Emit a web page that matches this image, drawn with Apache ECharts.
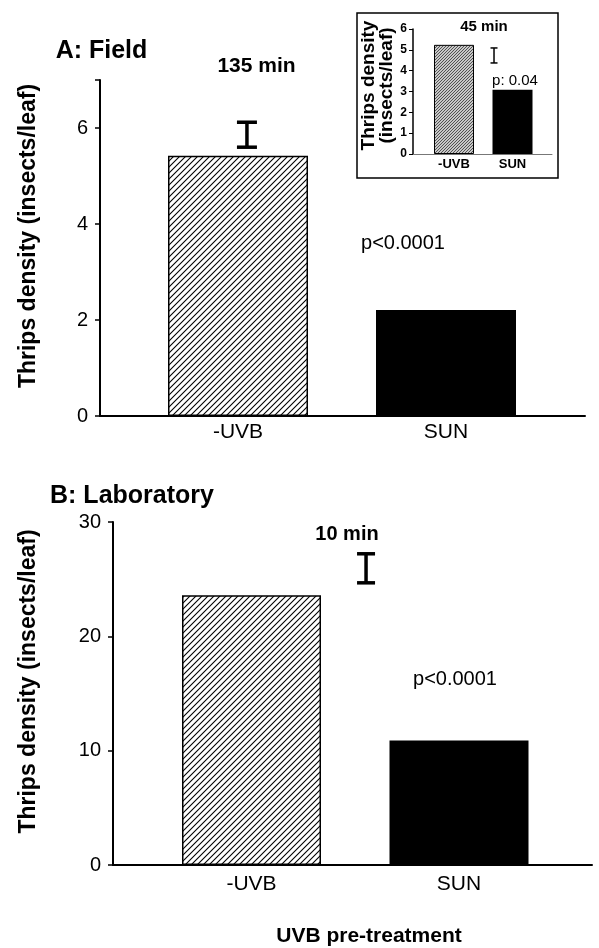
<!DOCTYPE html>
<html><head><meta charset="utf-8">
<script src="https://cdn.jsdelivr.net/npm/echarts@6/dist/echarts.min.js"></script>
<style>html,body{margin:0;padding:0;background:#fff}#c{width:599px;height:948px}</style>
</head><body><div id="c"></div>
<script>
// ---- data ----
const categories = ['-UVB', 'SUN'];
const fieldValues = [5.42, 2.21];      // A: Field, 135 min
const labValues = [23.6, 10.9];        // B: Laboratory, 10 min
const insetValues = [5.24, 3.08];      // inset, 45 min
const fieldErr = [5.86, 0.26];         // [mean, half-length] of error bar
const labErr = [25.95, 1.27];
const insetErr = [4.73, 0.36];
const fieldTicks = [0, 2, 4, 6];
const labTicks = [0, 10, 20, 30];
const insetTicks = [0, 1, 2, 3, 4, 5, 6];

// ---- styling helpers ----
function hatch(size, bg, fg, lw) {
  const c = document.createElement('canvas');
  c.width = size; c.height = size;
  const g = c.getContext('2d');
  g.fillStyle = bg; g.fillRect(0, 0, size, size);
  g.strokeStyle = fg; g.lineWidth = lw;
  g.beginPath();
  g.moveTo(0, size); g.lineTo(size, 0);
  g.moveTo(-size, size); g.lineTo(size, -size);
  g.moveTo(0, 2 * size); g.lineTo(2 * size, 0);
  g.stroke();
  return c;
}
const hatchBig = { image: hatch(6, '#fff', '#000', 1.1), repeat: 'repeat' };
const hatchSmall = { image: hatch(3, '#c8c8c8', '#444', 0.9), repeat: 'repeat' };

const FONT = '"Liberation Sans", Arial, sans-serif';

function barData(vals, hatchFill, bw) {
  return vals.map((v, i) => ({
    value: v,
    itemStyle: i === 0
      ? { color: hatchFill, borderColor: '#000', borderWidth: bw }
      : { color: '#000', borderWidth: 0 }
  }));
}

function errSeries(xi, yi, err, frac, capW, lw) {
  return {
    type: 'custom', xAxisIndex: xi, yAxisIndex: yi, silent: true,
    data: [[0, err[0], err[1]]],
    encode: { x: 0, y: 1 },
    renderItem: function (params, api) {
      const m = api.value(1), h = api.value(2);
      const band = api.size([1, 0])[0];
      const p1 = api.coord([0, m + h]);
      const p2 = api.coord([0, m - h]);
      const x = p1[0] + frac * band;
      const st = { stroke: '#000', lineWidth: lw, fill: null };
      return {
        type: 'group', children: [
          { type: 'line', shape: { x1: x, y1: p1[1], x2: x, y2: p2[1] }, style: st },
          { type: 'line', shape: { x1: x - capW / 2, y1: p1[1], x2: x + capW / 2, y2: p1[1] }, style: st },
          { type: 'line', shape: { x1: x - capW / 2, y1: p2[1], x2: x + capW / 2, y2: p2[1] }, style: st }
        ]
      };
    }
  };
}

function lineGridAxes(gridIndex, color, width) {
  return {
    x: { type: 'value', gridIndex: gridIndex, min: 0, max: 1, axisLine: { show: true, onZero: false, lineStyle: { color: color, width: width } }, axisTick: { show: false }, axisLabel: { show: false }, splitLine: { show: false } },
    y: { type: 'value', gridIndex: gridIndex, min: 0, max: 1, show: false }
  };
}

const la = lineGridAxes(1, '#000', 2);
const lb = lineGridAxes(3, '#000', 2);
const li = lineGridAxes(5, '#777', 1);

function text(x, y, t, font) {
  return { type: 'text', x: x, y: y, style: { text: t, font: font, fill: '#000', align: 'center', verticalAlign: 'middle' } };
}

const option = {
  backgroundColor: '#fff',
  animation: false,
  textStyle: { fontFamily: FONT },
  grid: [
    { left: 134, top: 80, width: 416, height: 336 },        // 0 A
    { left: 100, top: 80, width: 485, height: 336 },        // 1 A baseline
    { left: 147.75, top: 522, width: 415, height: 343 },    // 2 B
    { left: 113, top: 522, width: 479, height: 343 },       // 3 B baseline
    { left: 424.75, top: 29, width: 117, height: 125 },     // 4 inset
    { left: 413, top: 29, width: 139, height: 125 }         // 5 inset baseline
  ],
  xAxis: [
    { type: 'category', gridIndex: 0, data: categories, axisLine: { show: false }, axisTick: { show: false },
      axisLabel: { fontSize: 21, color: '#000', margin: 6, fontFamily: FONT } },
    la.x,
    { type: 'category', gridIndex: 2, data: categories, axisLine: { show: false }, axisTick: { show: false },
      axisLabel: { fontSize: 21, color: '#000', margin: 9, fontFamily: FONT } },
    lb.x,
    { type: 'category', gridIndex: 4, data: categories, axisLine: { show: false }, axisTick: { show: false },
      axisLabel: { fontSize: 13, fontWeight: 'bold', color: '#000', margin: 4, fontFamily: FONT } },
    li.x
  ],
  yAxis: [
    { type: 'value', gridIndex: 0, min: 0, max: 7, interval: 2, offset: 34,
      axisLine: { show: true, lineStyle: { color: '#000', width: 2 } },
      axisTick: { show: true, length: 5, lineStyle: { color: '#000', width: 1.5 } },
      axisLabel: { fontSize: 20, color: '#000', margin: 12, fontFamily: FONT, customValues: fieldTicks },
      splitLine: { show: false },
      name: 'Thrips density (insects/leaf)', nameLocation: 'middle', nameGap: 60,
      nameTextStyle: { fontSize: 23, fontWeight: 'bold', color: '#000', fontFamily: FONT, padding: [0, 0, 0, 24] } },
    la.y,
    { type: 'value', gridIndex: 2, min: 0, max: 30, interval: 10, offset: 34.75,
      axisLine: { show: true, lineStyle: { color: '#000', width: 2 } },
      axisTick: { show: true, length: 5, lineStyle: { color: '#000', width: 1.5 } },
      axisLabel: { fontSize: 20, color: '#000', margin: 12, fontFamily: FONT, customValues: labTicks },
      splitLine: { show: false },
      name: 'Thrips density (insects/leaf)', nameLocation: 'middle', nameGap: 73,
      nameTextStyle: { fontSize: 23, fontWeight: 'bold', color: '#000', fontFamily: FONT, padding: [0, 0, 0, 24] } },
    lb.y,
    { type: 'value', gridIndex: 4, min: 0, max: 6, interval: 1, offset: 11.75,
      axisLine: { show: true, lineStyle: { color: '#000', width: 1.5 } },
      axisTick: { show: true, length: 4, lineStyle: { color: '#000', width: 1 } },
      axisLabel: { fontSize: 12, fontWeight: 'bold', color: '#000', margin: 6, fontFamily: FONT, customValues: insetTicks },
      splitLine: { show: false },
      name: 'Thrips density\n(insects/leaf)', nameLocation: 'middle', nameGap: 7,
      nameTextStyle: { fontSize: 19, fontWeight: 'bold', color: '#000', lineHeight: 18, fontFamily: FONT, padding: [0, 0, 0, 12] } },
    li.y
  ],
  series: [
    { type: 'bar', xAxisIndex: 0, yAxisIndex: 0, barWidth: 140, data: barData(fieldValues, hatchBig, 1.5) },
    errSeries(0, 0, fieldErr, 0.043, 20, 3.5),
    { type: 'bar', xAxisIndex: 2, yAxisIndex: 2, barWidth: 139, data: barData(labValues, hatchBig, 1.5) },
    errSeries(2, 2, labErr, 0.552, 18, 3.5),
    { type: 'bar', xAxisIndex: 4, yAxisIndex: 4, barWidth: 40, data: barData(insetValues, hatchSmall, 1) },
    errSeries(4, 4, insetErr, 0.684, 7, 1.5)
  ],
  graphic: [
    { type: 'rect', shape: { x: 357, y: 13, width: 201, height: 165 }, style: { fill: null, stroke: '#000', lineWidth: 1.5 } },
    text(101.5, 51, 'A: Field', 'bold 25px ' + FONT),
    text(256.5, 66, '135 min', 'bold 21px ' + FONT),
    text(403, 243, 'p<0.0001', '20px ' + FONT),
    text(132, 496, 'B: Laboratory', 'bold 25px ' + FONT),
    text(347, 534, '10 min', 'bold 20px ' + FONT),
    text(455, 679, 'p<0.0001', '20px ' + FONT),
    text(369, 936, 'UVB pre-treatment', 'bold 21px ' + FONT),
    text(484, 27, '45 min', 'bold 15px ' + FONT),
    text(515, 81, 'p: 0.04', '15px ' + FONT)
  ]
};

const chart = echarts.init(document.getElementById('c'), null, { renderer: 'canvas' });
chart.setOption(option);
</script>
</body></html>
